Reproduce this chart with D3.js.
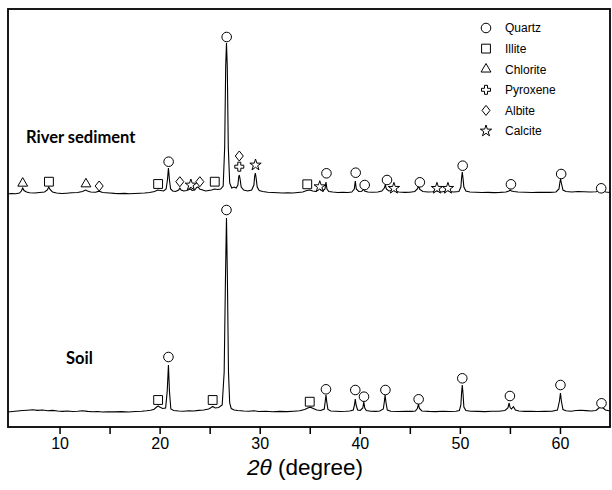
<!DOCTYPE html>
<html>
<head>
<meta charset="utf-8">
<script src="https://cdn.jsdelivr.net/npm/d3@7"></script>
<style>
body { margin: 0; background: #fff; }
svg { display: block; font-family: "Liberation Sans", Arial, sans-serif; }
</style>
</head>
<body>
<div id="chart"></div>
<script>
// XRD patterns, [2theta, intensity a.u.]
const soil = [
  [4.85,15],[5.3,15.5],[5.8,16],[6.3,16.5],[6.8,16.8],[7.3,17.2],[7.8,16.6],[8.3,17],[8.8,16.2],[9.3,16.6],[9.8,16],[10.3,15.6],
  [10.8,16],[11.3,15.5],[11.8,15.8],[12.3,16.3],[12.8,15.6],[13.3,15.2],[13.8,15.5],[14.3,15],[14.8,15.3],[15.5,15.1],[16.2,15.4],
  [16.9,15],[17.6,15.5],[18.2,15.8],[18.7,16.2],[19.1,16.8],[19.45,17.8],[19.7,20],[19.85,21],[20.0,20],[20.3,18.5],[20.6,19],
  [20.76,36],[20.88,62],[20.98,36],[21.12,18],[21.4,16.5],[21.9,16],[22.4,15.8],[22.9,16.2],[23.4,16],[23.9,16.6],[24.4,17],
  [24.9,18],[25.15,19.5],[25.3,20.5],[25.55,19],[25.9,19.5],[26.25,22],[26.45,55],[26.58,150],[26.68,209],[26.77,150],[26.88,55],
  [27.0,24],[27.15,18.5],[27.45,17],[27.8,16.5],[28.4,16],[28.9,15.8],[29.4,16.3],[29.9,15.5],[30.6,15.7],[31.3,15.3],[32,15.6],
  [32.7,15.4],[33.4,15.8],[34,16.2],[34.5,17.5],[34.8,19],[35.05,19.8],[35.35,18.6],[35.7,17],[36.1,16.5],[36.45,18],[36.54,25],
  [36.62,32],[36.7,25],[36.82,17.5],[37.1,16],[37.6,15.8],[38.1,15.5],[38.6,15.7],[39.0,16],[39.35,17],[39.47,22],[39.55,28],
  [39.63,22],[39.78,17],[40.05,16.5],[40.3,19],[40.4,25],[40.5,19],[40.65,16.5],[41.1,15.8],[41.6,15.6],[42.0,16],[42.35,18],
  [42.45,25],[42.53,32],[42.61,25],[42.75,17],[43.1,15.8],[43.8,15.5],[44.6,15.7],[45.2,15.6],[45.55,16],[45.75,18.5],[45.86,22.5],
  [45.96,18.5],[46.2,16],[46.9,15.6],[47.6,15.4],[48.3,15.7],[49.0,15.5],[49.6,15.8],[49.95,16.5],[50.1,22],[50.17,34],[50.24,42],
  [50.31,34],[50.4,20],[50.6,16.5],[51.1,15.8],[51.8,15.6],[52.5,15.4],[53.2,15.7],[53.9,15.8],[54.5,16.5],[54.8,19],[54.92,24],
  [55.02,19.5],[55.15,18],[55.35,20.3],[55.55,17],[55.9,16],[56.5,15.6],[57.1,15.8],[57.8,15.5],[58.5,15.6],[59.2,15.8],[59.75,17],
  [59.95,26],[60.05,34],[60.14,26],[60.3,17.5],[60.6,16.2],[61.1,15.8],[61.6,16.5],[62.1,16.8],[62.6,16.4],[63.1,16],[63.6,16.5],
  [63.95,19.5],[64.1,20.5],[64.25,19.5],[64.55,17],[65,16]
];
const river = [
  [4.85,13],[5.2,13.5],[5.6,13.2],[6.0,14],[6.18,16],[6.32,19],[6.45,16.5],[6.7,15],[7.0,14.2],[7.5,14],[8.0,14.5],[8.5,15],
  [8.78,17],[8.92,20],[9.05,17.5],[9.3,15],[9.7,14],[10.2,13.5],[10.7,13.8],[11.2,14.2],[11.8,14.5],[12.3,15.5],[12.6,17],
  [12.8,16],[13.1,15],[13.6,14.8],[13.95,15.8],[14.3,14.5],[15,14],[15.5,13.6],[16,13.4],[16.5,13.6],[17,13.2],[17.5,13.5],
  [18,13.8],[18.5,14],[19,14.5],[19.5,15.5],[19.8,17],[20.1,16.5],[20.4,16],[20.65,18],[20.78,27],[20.88,39],[20.98,27],
  [21.1,18],[21.3,16],[21.6,15.5],[21.9,17],[22.02,19],[22.15,17],[22.4,16],[22.7,16.5],[22.95,17.5],[23.1,18],[23.25,16.5],
  [23.5,17],[23.7,19.5],[23.85,20],[24.0,18],[24.3,17],[24.6,16],[24.9,16.5],[25.2,17],[25.5,18],[25.8,17.5],[26.1,18],
  [26.35,21],[26.5,60],[26.6,140],[26.68,164],[26.76,140],[26.86,60],[27.0,24],[27.2,19],[27.45,20],[27.65,19],[27.82,22],
  [27.9,30],[27.96,32],[28.04,28],[28.15,20],[28.4,17],[28.8,16],[29.2,17],[29.42,22],[29.5,31],[29.56,34],[29.63,30],
  [29.75,20],[29.95,16.5],[30.3,15.5],[30.8,14.8],[31.3,14.5],[31.8,14.2],[32.3,14],[32.8,14.3],[33.3,14],[33.8,14.5],
  [34.3,15],[34.7,16.5],[35.0,17],[35.3,16],[35.6,15.5],[35.9,17.5],[36.0,20],[36.1,17],[36.3,16],[36.52,18],[36.62,25],
  [36.72,18],[36.9,15.5],[37.3,15],[37.8,14.5],[38.3,14.8],[38.8,14.5],[39.2,15],[39.45,18],[39.55,26],[39.65,18],[39.9,15.5],
  [40.2,15.8],[40.38,18],[40.48,16],[40.8,15],[41.3,14.8],[41.8,15],[42.2,16],[42.45,19],[42.55,22],[42.65,18],[42.9,16],
  [43.2,16.5],[43.35,18],[43.5,16],[43.9,15],[44.5,14.6],[45,14.8],[45.5,15.5],[45.75,18],[45.88,21],[46.0,17.5],[46.3,15.5],
  [46.8,15],[47.3,15.2],[47.6,16.5],[47.75,15.8],[48.2,15],[48.6,16],[48.8,17],[48.95,15.5],[49.4,15],[49.9,15.5],[50.1,20],
  [50.18,30],[50.24,35],[50.3,30],[50.4,20],[50.6,16],[51.0,15],[51.6,14.8],[52.2,14.5],[52.8,14.6],[53.4,14.4],[54.0,14.6],
  [54.6,15],[54.9,16],[55.02,17],[55.15,16],[55.4,15.5],[55.8,15],[56.5,14.8],[57.2,14.5],[57.8,14.6],[58.4,14.8],[59.0,14.6],
  [59.6,15],[59.9,18],[60.0,25],[60.06,28],[60.14,24],[60.3,17],[60.6,15.5],[61.2,15],[61.8,15.5],[62.4,15.2],[63,15],
  [63.6,15.3],[63.95,16],[64.1,16.5],[64.25,16],[64.6,15],[65,14.5]
];
const RIVER_OFFSET = 220;

// phase labels: [2theta, intensity, phase]
const soilMarks = [
  [19.85,27,'illite'],[20.88,70,'quartz'],[25.3,27,'illite'],[26.68,217,'quartz'],[35.0,25.3,'illite'],
  [36.62,37.7,'quartz'],[39.55,37,'quartz'],[40.42,30.3,'quartz'],[42.56,37,'quartz'],[45.88,27.7,'quartz'],
  [50.24,48.7,'quartz'],[55.0,31,'quartz'],[60.05,42,'quartz'],[64.15,23.7,'quartz']
];
const riverMarks = [
  [6.32,23.7,'chlorite'],[8.94,25.3,'illite'],[12.64,23,'chlorite'],[13.96,21,'albite'],[19.85,23,'illite'],
  [20.9,45.3,'quartz'],[22.02,25.3,'albite'],[23.12,22,'calcite'],[24.02,25.3,'albite'],[25.51,25.3,'illite'],
  [26.7,170,'quartz'],[27.96,51,'albite'],[27.96,40.3,'pyroxene'],[29.58,42,'calcite'],[34.75,22.7,'illite'],
  [36.0,20.3,'calcite'],[36.67,33.7,'quartz'],[39.59,34.3,'quartz'],[40.49,22,'quartz'],[42.72,27,'quartz'],
  [43.41,18.7,'calcite'],[46.0,24.7,'quartz'],[47.71,18.7,'calcite'],[48.81,18.7,'calcite'],[50.28,41.3,'quartz'],
  [55.1,22.7,'quartz'],[60.12,33,'quartz'],[64.12,18.7,'quartz']
];

const legendKeys = ['quartz','illite','chlorite','pyroxene','albite','calcite'];
const legendNames = ['Quartz','Illite','Chlorite','Pyroxene','Albite','Calcite'];
const xTicks = [10,20,30,40,50,60];

const W = 612, H = 490;
const svg = d3.select('#chart').append('svg')
  .attr('width', W)
  .attr('height', H);

const x = d3.scaleLinear().domain([4.85, 65]).range([8, 610]);
const y = d3.scaleLinear().domain([0, 418]).range([427, 9]);

// symbol shapes
const diamond = {draw(ctx, size){ const h = Math.sqrt(size)/2*1.2, w = h*0.8;
  ctx.moveTo(0,-h); ctx.lineTo(w,0); ctx.lineTo(0,h); ctx.lineTo(-w,0); ctx.closePath(); }};
const shapes = {
  quartz: d3.symbol(d3.symbolCircle, 72),
  illite: d3.symbol(d3.symbolSquare, 78),
  chlorite: d3.symbol(d3.symbolTriangle, 42),
  pyroxene: d3.symbol(d3.symbolCross, 45),
  albite: d3.symbol(diamond, 70),
  calcite: d3.symbol(d3.symbolStar, 40)
};

// curves
const line = d3.line().x(d => x(d[0])).y(d => y(d[1]));
svg.append('path').datum(soil)
  .attr('d', line)
  .attr('fill','none').attr('stroke','#000').attr('stroke-width',1.1);
svg.append('path').datum(river.map(d => [d[0], d[1] + RIVER_OFFSET]))
  .attr('d', line)
  .attr('fill','none').attr('stroke','#000').attr('stroke-width',1.1);

// markers
const allMarks = soilMarks.map(d => [d[0], d[1], d[2]])
  .concat(riverMarks.map(d => [d[0], d[1] + RIVER_OFFSET, d[2]]));
svg.append('g').selectAll('path').data(allMarks).join('path')
  .attr('transform', d => `translate(${x(d[0])},${y(d[1])})`)
  .attr('d', d => shapes[d[2]]())
  .attr('fill','#fff').attr('stroke','#000').attr('stroke-width',1);

// legend
const leg = svg.append('g');
legendKeys.forEach((k, i) => {
  const ly = 28 + i*20.6;
  leg.append('path').attr('transform', `translate(486,${ly})`)
    .attr('d', shapes[k]()).attr('fill','#fff').attr('stroke','#000').attr('stroke-width',1);
  leg.append('text').attr('x', 505).attr('y', ly + 4.3)
    .attr('font-size', 12).text(legendNames[i]);
});

// sample labels
svg.append('text').attr('x', 26).attr('y', 143)
  .attr('font-family','Lato, "Open Sans", sans-serif').attr('font-weight','bold')
  .attr('font-size', 16.5).text('River sediment');
svg.append('text').attr('x', 66).attr('y', 364)
  .attr('font-family','Lato, "Open Sans", sans-serif').attr('font-weight','bold')
  .attr('font-size', 16.5).text('Soil');

// frame
svg.append('rect').attr('x', 8).attr('y', 9).attr('width', 602).attr('height', 418)
  .attr('fill','none').attr('stroke','#000').attr('stroke-width',1.8);

// x axis
const xAxis = d3.axisBottom(x).tickValues(d3.range(10, 65, 5))
  .tickFormat(d => xTicks.includes(d) ? d : '')
  .tickSize(7).tickSizeOuter(0).tickPadding(4);
const ax = svg.append('g').attr('transform', 'translate(0,427)').call(xAxis);
ax.select('.domain').remove();
ax.selectAll('line').attr('stroke-width', 1.5);
ax.selectAll('text').attr('font-size', 16).attr('font-family','"Liberation Sans", Arial, sans-serif');

const title = svg.append('text').attr('x', 305).attr('y', 475)
  .attr('text-anchor','middle').attr('font-size', 22.5);
title.append('tspan').attr('font-style','italic').text('2\u03B8');
title.append('tspan').text(' (degree)');
</script>
</body>
</html>
